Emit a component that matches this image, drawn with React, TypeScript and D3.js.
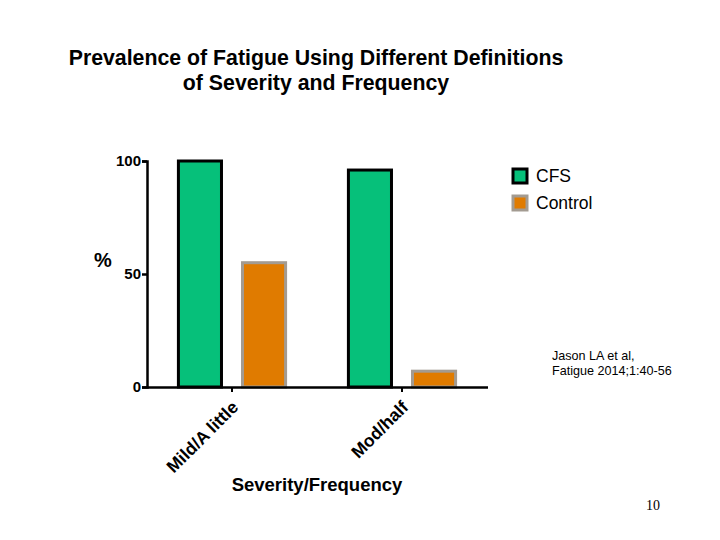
import { useRef, useEffect } from 'react'
import * as d3 from 'd3'

const categories = ['Mild/A little', 'Mod/half']
const seriesNames = ['CFS', 'Control']
const cfsValues = [100, 96]
const controlValues = [55, 7]
const yTicks = [0, 50, 100]

const fillColors = ['#06C07A', '#E07B00']
const strokeColors = ['#000000', '#A39B91']
const font = 'Liberation Sans, Arial, sans-serif'

export default function App() {
  const svgRef = useRef<SVGSVGElement>(null)

  useEffect(() => {
    if (!svgRef.current) return
    const svg = d3.select(svgRef.current)
    svg.selectAll('*').remove()

    const margin = { top: 161, left: 147 }
    const innerW = 341
    const innerH = 226
    const g = svg.append('g').attr('transform', `translate(${margin.left},${margin.top})`)

    const x = d3.scaleBand().domain(categories).range([0, 340]).padding(0)
    const xSub = d3
      .scaleBand()
      .domain(seriesNames)
      .range([0, x.bandwidth()])
      .paddingInner(0.328)
      .paddingOuter(0.49)
    const y = d3.scaleLinear().domain([0, 100]).range([innerH, 0])

    const rows = categories.map((c, i) => ({ cat: c, values: [cfsValues[i], controlValues[i]] }))

    // Bars
    rows.forEach((r) => {
      r.values.forEach((v, si) => {
        g.append('rect')
          .attr('x', (x(r.cat) ?? 0) + (xSub(seriesNames[si]) ?? 0))
          .attr('y', y(v))
          .attr('width', xSub.bandwidth())
          .attr('height', innerH - y(v))
          .attr('fill', fillColors[si])
          .attr('stroke', strokeColors[si])
          .attr('stroke-width', 3)
      })
    })

    // Y axis
    const yAxis = g
      .append('g')
      .call(d3.axisLeft(y).tickValues(yTicks).tickSize(5).tickPadding(1))
    yAxis.select('.domain').attr('stroke', '#000').attr('stroke-width', 2.5)
    yAxis.selectAll('line').attr('stroke', '#000').attr('stroke-width', 2.5)
    yAxis
      .selectAll('text')
      .attr('fill', '#000')
      .attr('font-family', font)
      .attr('font-weight', 'bold')
      .attr('font-size', '15px')

    // X axis
    const xAxis = g
      .append('g')
      .attr('transform', `translate(0,${innerH})`)
      .call(d3.axisBottom(x).tickSize(5).tickSizeOuter(0))
    xAxis.select('.domain').attr('d', `M0,0.5H${innerW}`).attr('stroke', '#000').attr('stroke-width', 2.5)
    xAxis.selectAll('line').attr('stroke', '#000').attr('stroke-width', 2)
    xAxis
      .selectAll('text')
      .attr('fill', '#000')
      .attr('font-family', font)
      .attr('font-weight', 'bold')
      .attr('font-size', '17.5px')
      .attr('text-anchor', 'end')
      .attr('transform', 'translate(-7,7) rotate(-45)')
      .attr('dy', '0.7em')

    // Axis titles
    svg
      .append('text')
      .attr('x', 103)
      .attr('y', 267)
      .attr('text-anchor', 'middle')
      .attr('font-family', font)
      .attr('font-weight', 'bold')
      .attr('font-size', '20px')
      .text('%')

    svg
      .append('text')
      .attr('x', 317)
      .attr('y', 491)
      .attr('text-anchor', 'middle')
      .attr('font-family', font)
      .attr('font-weight', 'bold')
      .attr('font-size', '18.5px')
      .text('Severity/Frequency')

    // Title
    const title = ['Prevalence of Fatigue Using Different Definitions', 'of Severity and Frequency']
    title.forEach((t, i) => {
      svg
        .append('text')
        .attr('x', 316)
        .attr('y', 65 + i * 25)
        .attr('text-anchor', 'middle')
        .attr('font-family', font)
        .attr('font-weight', 'bold')
        .attr('font-size', '21.3px')
        .text(t)
    })

    // Legend
    seriesNames.forEach((s, i) => {
      svg
        .append('rect')
        .attr('x', 513)
        .attr('y', 169 + i * 27)
        .attr('width', 14)
        .attr('height', 14)
        .attr('fill', fillColors[i])
        .attr('stroke', strokeColors[i])
        .attr('stroke-width', 3)
      svg
        .append('text')
        .attr('x', 536)
        .attr('y', 182 + i * 27)
        .attr('font-family', font)
        .attr('font-size', '17.5px')
        .attr('fill', '#000')
        .text(s)
    })

    // Citation
    const cite = ['Jason LA et al,', 'Fatigue 2014;1:40-56']
    cite.forEach((t, i) => {
      svg
        .append('text')
        .attr('x', 552)
        .attr('y', 360 + i * 15)
        .attr('font-family', font)
        .attr('font-size', '12.6px')
        .attr('fill', '#000')
        .text(t)
    })

    // Page number
    svg
      .append('text')
      .attr('x', 646)
      .attr('y', 510)
      .attr('font-family', 'Liberation Serif, Times New Roman, serif')
      .attr('font-size', '14px')
      .attr('fill', '#000')
      .text('10')
  }, [])

  return (
    <svg
      ref={svgRef}
      width={720}
      height={540}
      style={{ position: 'absolute', left: 0, top: 0, background: '#fff' }}
    />
  )
}
